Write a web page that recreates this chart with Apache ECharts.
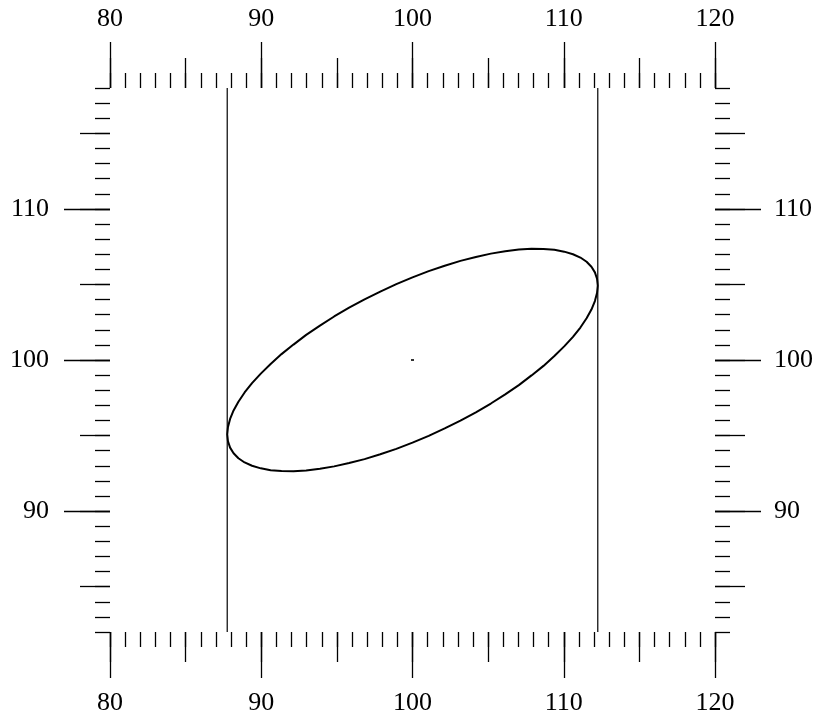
<!DOCTYPE html>
<html>
<head>
<meta charset="utf-8">
<script src="https://cdn.jsdelivr.net/npm/echarts@6/dist/echarts.min.js"></script>
<style>
html,body{margin:0;padding:0;background:#fff;}
#chart{width:817px;height:717px;}
</style>
</head>
<body>
<div id="chart"></div>
<script>
// ---- data ----
const xRange = [80, 120];
const yRange = [82, 118];
const xLabelTicks = [80, 90, 100, 110, 120];
const yLabelTicks = [90, 100, 110];
const yMidTicks = [85, 90, 95, 100, 105, 110, 115];
const boundX = [87.75, 112.25];
const centerPoint = [100, 100];
const ellipseX = [93.88, 92.97, 92.13, 91.34, 90.62, 89.97, 89.39, 88.90, 88.49, 88.17, 87.94, 87.80,
  87.75, 87.80, 87.94, 88.17, 88.49, 88.90, 89.39, 89.97, 90.62, 91.34, 92.13, 92.97,
  93.88, 94.82, 95.81, 96.83, 97.87, 98.93, 100.00, 101.07, 102.13, 103.17, 104.19, 105.18,
  106.13, 107.03, 107.87, 108.66, 109.38, 110.03, 110.61, 111.10, 111.51, 111.83, 112.06, 112.20,
  112.25, 112.20, 112.06, 111.83, 111.51, 111.10, 110.61, 110.03, 109.38, 108.66, 107.87, 107.03,
  106.13, 105.18, 104.19, 103.17, 102.13, 101.07, 100.00, 98.93, 97.87, 96.83, 95.81, 94.82, 93.88];
const ellipseY = [102.27, 101.66, 101.02, 100.39, 99.74, 99.10, 98.47, 97.85, 97.24, 96.66, 96.10, 95.57,
  95.08, 94.62, 94.20, 93.83, 93.50, 93.22, 93.00, 92.83, 92.71, 92.65, 92.64, 92.69,
  92.80, 92.96, 93.18, 93.44, 93.76, 94.12, 94.53, 94.98, 95.47, 95.99, 96.54, 97.12,
  97.73, 98.34, 98.98, 99.61, 100.26, 100.90, 101.53, 102.15, 102.76, 103.34, 103.90, 104.43,
  104.92, 105.38, 105.80, 106.17, 106.50, 106.78, 107.00, 107.17, 107.29, 107.35, 107.36, 107.31,
  107.20, 107.04, 106.82, 106.56, 106.24, 105.88, 105.47, 105.02, 104.53, 104.01, 103.46, 102.88, 102.27];

// ---- chart ----
const FONT = 'Liberation Serif';
const FONT_SIZE = 26;
const TICK_W = 1.3;
function xAx(pos, interval, len, labels) {
  return {
    type: 'value', position: pos, min: xRange[0], max: xRange[1], interval: interval,
    axisLine: { show: false, onZero: false },
    splitLine: { show: false },
    axisTick: { show: true, length: len, lineStyle: { color: '#000', width: TICK_W } },
    axisLabel: labels ? {
      show: true, margin: pos === 'top' ? 56 : 58, color: '#000', fontFamily: FONT, fontSize: FONT_SIZE,
      showMinLabel: true, showMaxLabel: true, customValues: xLabelTicks
    } : { show: false }
  };
}
function yAx(pos, custom, len, labels) {
  const a = {
    type: 'value', position: pos, min: yRange[0], max: yRange[1],
    axisLine: { show: false, onZero: false },
    splitLine: { show: false },
    axisTick: { show: true, length: len, lineStyle: { color: '#000', width: TICK_W } },
    axisLabel: labels ? {
      show: true, margin: pos === 'left' ? 61 : 59, color: '#000', fontFamily: FONT, fontSize: FONT_SIZE,
      customValues: yLabelTicks
    } : { show: false }
  };
  if (custom) { a.axisTick.customValues = custom; } else { a.interval = 1; }
  return a;
}

const ellipseData = ellipseX.map((x, i) => [x, ellipseY[i]]);

const option = {
  animation: false,
  backgroundColor: '#fff',
  grid: { left: 110, right: 102, top: 88, bottom: 85, outerBoundsMode: 'none', containLabel: false },
  xAxis: [
    xAx('bottom', 1, 15, false), xAx('bottom', 5, 30, false), xAx('bottom', 10, 46, true),
    xAx('top', 1, 15, false), xAx('top', 5, 30, false), xAx('top', 10, 46, true)
  ],
  yAxis: [
    yAx('left', null, 15, false), yAx('left', yMidTicks, 30, false), yAx('left', yLabelTicks, 46, true),
    yAx('right', null, 15, false), yAx('right', yMidTicks, 30, false), yAx('right', yLabelTicks, 46, true)
  ],
  series: [
    {
      type: 'line', xAxisIndex: 0, yAxisIndex: 0, data: ellipseData, smooth: false,
      symbol: 'none', lineStyle: { color: '#000', width: 2, join: 'round', cap: 'round' }, silent: true
    },
    {
      type: 'line', xAxisIndex: 0, yAxisIndex: 0,
      data: [[boundX[0], yRange[0]], [boundX[0], yRange[1]]],
      symbol: 'none', lineStyle: { color: '#000', width: 1.2 }, silent: true
    },
    {
      type: 'line', xAxisIndex: 0, yAxisIndex: 0,
      data: [[boundX[1], yRange[0]], [boundX[1], yRange[1]]],
      symbol: 'none', lineStyle: { color: '#000', width: 1.2 }, silent: true
    },
    {
      type: 'scatter', xAxisIndex: 0, yAxisIndex: 0, data: [centerPoint],
      symbol: 'rect', symbolSize: [3, 2], itemStyle: { color: '#000' }, silent: true
    }
  ]
};
const chart = echarts.init(document.getElementById('chart'), null, { renderer: 'canvas' });
chart.setOption(option);
</script>
</body>
</html>
